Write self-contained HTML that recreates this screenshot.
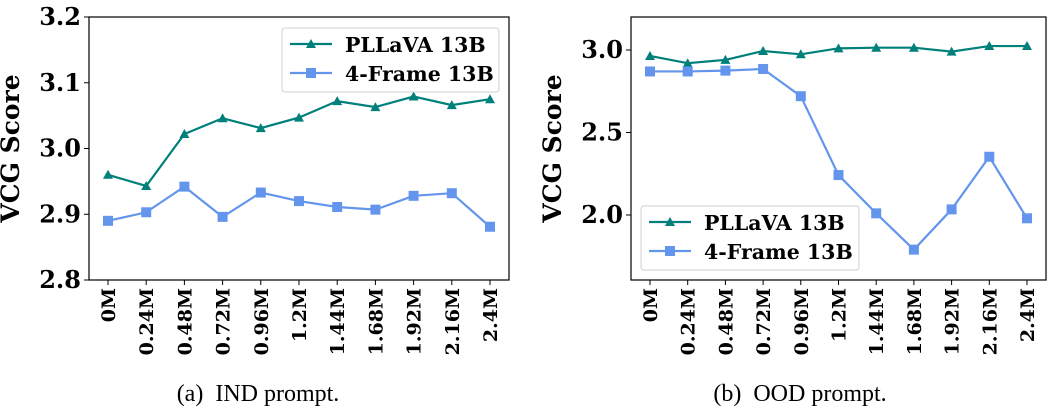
<!DOCTYPE html>
<html><head><meta charset="utf-8"><style>
body{margin:0;background:#fff;width:1056px;height:410px;overflow:hidden}
svg{display:block}
.tk{font-family:"DejaVu Serif","Liberation Serif",serif;font-weight:bold;fill:#000}
.cap{font-family:"Liberation Serif",serif;fill:#000}
</style></head><body>
<svg id="c" width="1056" height="410" xmlns="http://www.w3.org/2000/svg"></svg>
<script>
const categories=["0M","0.24M","0.48M","0.72M","0.96M","1.2M","1.44M","1.68M","1.92M","2.16M","2.4M"];
const seriesNames=["PLLaVA 13B","4-Frame 13B"];
const indPllava=[2.960,2.943,3.022,3.046,3.031,3.047,3.072,3.063,3.079,3.066,3.075];
const indFrame=[2.890,2.903,2.942,2.896,2.933,2.920,2.911,2.907,2.928,2.932,2.881];
const oodPllava=[2.964,2.920,2.940,2.994,2.974,3.010,3.014,3.014,2.990,3.024,3.024];
const oodFrame=[2.870,2.870,2.875,2.885,2.720,2.242,2.010,1.790,2.034,2.353,1.980];
const indTicks=[2.8,2.9,3.0,3.1,3.2];
const oodTicks=[2.0,2.5,3.0];
const captions=["(a)\u00a0\u00a0IND prompt.","(b)\u00a0\u00a0OOD prompt."];

const svg=document.getElementById('c');
const NS='http://www.w3.org/2000/svg';
function mk(tag,attrs,parent){const e=document.createElementNS(NS,tag);for(const k in attrs)e.setAttribute(k,attrs[k]);(parent||svg).appendChild(e);return e;}
const COL=["#00807a","#6495ed"];

function panel(p){
  const g=mk('g',{});
  
  
  const X=i=>p.x0+p.pad+i*(p.x1-p.x0-2*p.pad)/(categories.length-1);
  const Y=v=>p.yb-(v-p.ymin)/(p.ymax-p.ymin)*(p.yb-p.yt);
  p.ticks.forEach(t=>{
    const y=Y(t);
    mk('line',{x1:p.x0-5,x2:p.x0,y1:y,y2:y,stroke:'#000','stroke-width':1},g);
    const tx=mk('text',{x:p.x0-8,y:y+8,'text-anchor':'end','font-size':24,class:'tk'},g);
    tx.textContent=t.toFixed(1);
    
    
  });
  categories.forEach((c,i)=>{
    const x=X(i);
    mk('line',{x1:x,x2:x,y1:p.yb,y2:p.yb+5,stroke:'#000','stroke-width':1},g);
    const tx=mk('text',{x:0,y:0,'text-anchor':'end','font-size':19,class:'tk',transform:`translate(${x+7},${p.yb+8}) rotate(-90)`},g);
    tx.textContent=c;
    
    
  });
  const yt=mk('text',{x:0,y:0,'text-anchor':'middle','font-size':25,class:'tk',transform:`translate(${p.x0-p.titleOff},${(p.yt+p.yb)/2}) rotate(-90)`},g);
  yt.textContent='VCG Score';
  
  
  [p.s1,p.s2].forEach((data,si)=>{
    const pts=data.map((v,i)=>X(i)+','+Y(v)).join(' ');
    const l=mk('polyline',{points:pts,fill:'none',stroke:COL[si],'stroke-width':2.2},g);
    
    
    data.forEach((v,i)=>{
      const x=X(i),y=Y(v);let m;
      if(si==0)m=mk('polygon',{points:`${x},${y-5} ${x-5},${y+4} ${x+5},${y+4}`,fill:COL[0]},g);
      else m=mk('rect',{x:x-5,y:y-5,width:10,height:10,fill:COL[1]},g);
      
      
    });
  });
  const fr=mk('rect',{x:p.x0,y:p.yt,width:p.x1-p.x0,height:p.yb-p.yt,fill:'none',stroke:'#000','stroke-width':1.2},g);
  
  
  const L=p.leg;
  const lg=mk('g',{},g);
  
  
  mk('rect',{x:L.x,y:L.y,width:L.w,height:64,rx:3,fill:'#fff',stroke:'#d0d0d0'},lg);
  seriesNames.forEach((n,si)=>{
    const y=L.y+16+si*29;
    mk('line',{x1:L.x+8,x2:L.x+50,y1:y,y2:y,stroke:COL[si],'stroke-width':2.2},lg);
    const x=L.x+29;
    if(si==0)mk('polygon',{points:`${x},${y-5} ${x-5},${y+4} ${x+5},${y+4}`,fill:COL[0]},lg);
    else mk('rect',{x:x-5,y:y-5,width:10,height:10,fill:COL[1]},lg);
    const t=mk('text',{x:L.x+63,y:y+8,'font-size':20.5,class:'tk'},lg);
    t.textContent=n;
    
    
  });
  const cp=mk('text',{x:p.capX,y:401,'text-anchor':'middle','font-size':24,class:'cap'},g);
  cp.textContent=p.cap;
  
  
}
panel({name:'ind-chart',x0:89,x1:509,yt:17,yb:280,pad:19,ymin:2.8,ymax:3.2,ticks:indTicks,s1:indPllava,s2:indFrame,leg:{x:282,y:28,w:217},cap:captions[0],capX:258,titleOff:70});
panel({name:'ood-chart',x0:631,x1:1046,yt:17,yb:280,pad:19,ymin:1.606,ymax:3.2,ticks:oodTicks,s1:oodPllava,s2:oodFrame,leg:{x:641,y:206,w:218},cap:captions[1],capX:800,titleOff:70});
</script>
</body></html>
